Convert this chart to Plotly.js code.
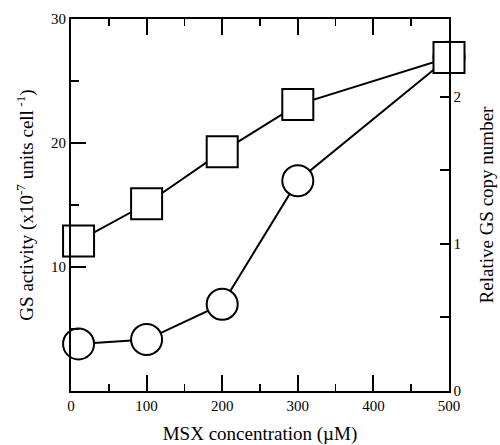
<!DOCTYPE html>
<html>
<head>
<meta charset="utf-8">
<script src="https://cdn.plot.ly/plotly-3.0.1.min.js"></script>
<style>html,body{margin:0;padding:0;background:#fff;}#chart{width:500px;height:445px;}</style>
</head>
<body>
<div id="chart"></div>
<script>
// Data
const msx = [10, 100, 200, 300, 500];
const gsActivity = [12.1, 15.1, 19.3, 23.1, 26.9];      // squares, left axis
const gsCopyNumber = [0.32, 0.35, 0.59, 1.43, 2.27];     // circles, right axis
const xTicks = [0, 100, 200, 300, 400, 500];
const yTicks = [10, 20, 30];
const y2Ticks = [0, 1, 2];

const font = {family: 'Liberation Serif, Times New Roman, serif', color: '#000'};

const traces = [
  {
    x: msx, y: gsCopyNumber, yaxis: 'y', type: 'scatter', mode: 'lines+markers',
    line: {color: '#000', width: 2},
    marker: {symbol: 'circle', size: 31, color: '#fff', line: {color: '#000', width: 2}},
    showlegend: false, cliponaxis: false
  },
  {
    x: msx, y: gsActivity, yaxis: 'y2', type: 'scatter', mode: 'lines+markers',
    line: {color: '#000', width: 2},
    marker: {symbol: 'square', size: 31, color: '#fff', line: {color: '#000', width: 2}},
    showlegend: false, cliponaxis: false
  }
];

const layout = {
  width: 500, height: 445,
  margin: {l: 71, r: 51, t: 19, b: 54, pad: 0},
  paper_bgcolor: '#fff', plot_bgcolor: '#fff',
  font: Object.assign({size: 15}, font),
  showlegend: false,
  xaxis: {
    range: [0, 500], tickvals: xTicks, ticktext: xTicks.map(String),
    ticks: 'inside', ticklen: 16, tickwidth: 2, tickcolor: '#000',
    showline: true, linewidth: 2, linecolor: '#000', mirror: 'ticks',
    showgrid: false, zeroline: false,
    minor: {tickvals: [50, 150, 250, 350, 450], ticks: 'inside', ticklen: 7, tickwidth: 1.5, tickcolor: '#000', showgrid: false},
    tickfont: Object.assign({size: 15}, font),
    title: {text: 'MSX concentration (\u00b5M)', font: Object.assign({size: 19}, font), standoff: 15}
  },
  // right axis: relative GS copy number (circles)
  yaxis: {
    side: 'right', anchor: 'x',
    range: [0, 2.53], tickvals: y2Ticks, ticktext: y2Ticks.map(String),
    ticks: 'inside', ticklen: 9, tickwidth: 2, tickcolor: '#000',
    showline: true, linewidth: 1.5, linecolor: '#000',
    showgrid: false, zeroline: false,
    minor: {tickvals: [0.5, 1.5], ticks: 'inside', ticklen: 9, tickwidth: 2, tickcolor: '#000', showgrid: false},
    tickfont: Object.assign({size: 15}, font),
    title: {text: 'Relative GS copy number', font: Object.assign({size: 19}, font), standoff: 19}
  },
  // left axis: GS activity (squares)
  yaxis2: {
    overlaying: 'y', side: 'left', anchor: 'x',
    range: [0, 30], tickvals: yTicks, ticktext: yTicks.map(String),
    ticks: 'inside', ticklen: 15, tickwidth: 2, tickcolor: '#000',
    showline: true, linewidth: 2, linecolor: '#000', mirror: false,
    showgrid: false, zeroline: false,
    minor: {tickvals: [5, 15, 25], ticks: 'inside', ticklen: 8, tickwidth: 2, tickcolor: '#000', showgrid: false},
    tickfont: Object.assign({size: 15}, font),
    title: {text: 'GS activity (x10<sup>-7</sup> units cell<sup> -1</sup>)', font: Object.assign({size: 19}, font), standoff: 12}
  }
};

Plotly.newPlot('chart', traces, layout, {staticPlot: true, displayModeBar: false});
</script>
</body>
</html>
